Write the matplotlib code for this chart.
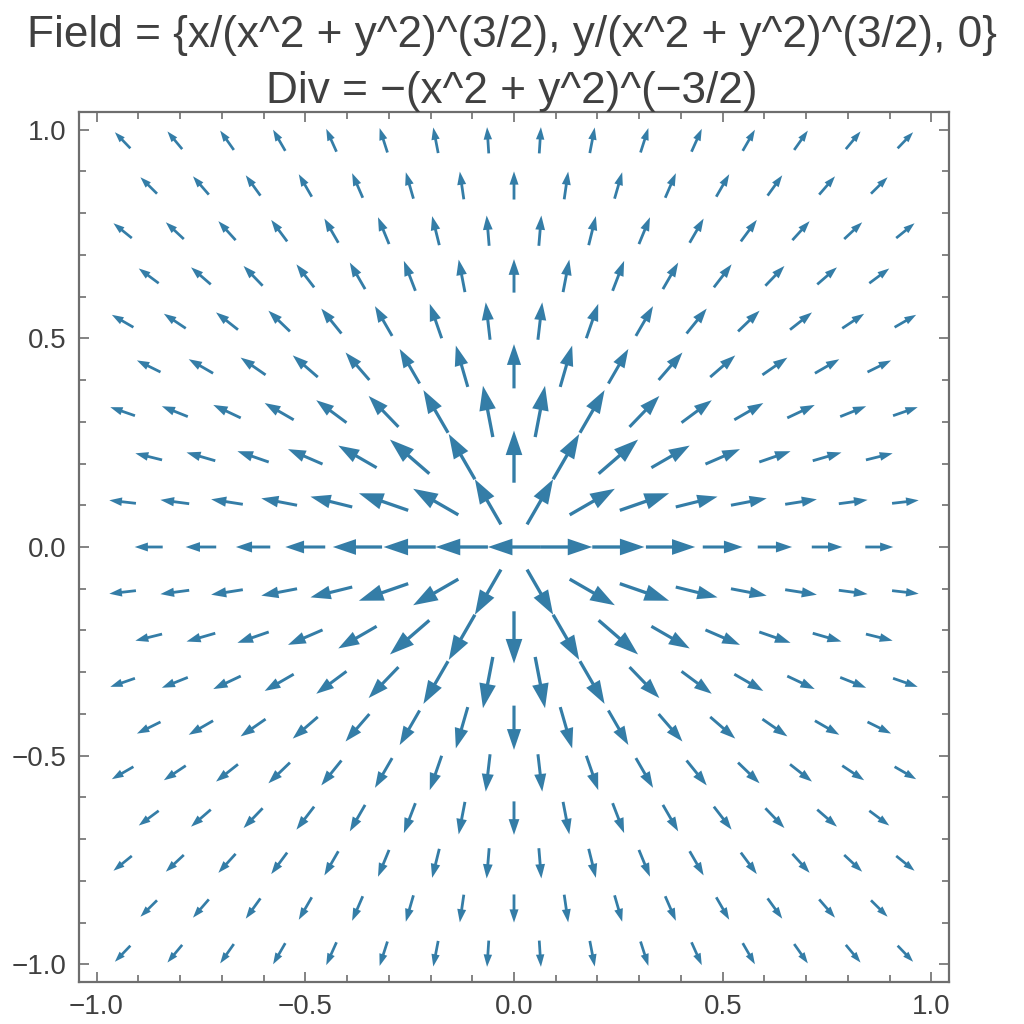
import numpy as np
import matplotlib
matplotlib.use("Agg")
import matplotlib.pyplot as plt
from matplotlib.ticker import MultipleLocator

# grid of sample points (hexagonal layout, rows alternate offset)
spacing = 0.125
row_step = spacing * np.sqrt(3) / 2
row_index = np.arange(-9, 10)
x_full = np.arange(-7, 8) * spacing          # rows with even index
x_half = (np.arange(-8, 8) + 0.5) * spacing  # rows with odd index

title_line1 = "Field = {x/(x^2 + y^2)^(3/2), y/(x^2 + y^2)^(3/2), 0}"
title_line2 = "Div = \u2212(x^2 + y^2)^(\u22123/2)"
ticks_major = [-1.0, -0.5, 0.0, 0.5, 1.0]
tick_labels = ["\u22121.0", "\u22120.5", "0.0", "0.5", "1.0"]

arrow_color = "#347da7"


def field(x, y):
    # the origin sample lands a hair left of zero, so it points left
    if x == 0 and y == 0:
        x = -1e-12
    r3 = (x * x + y * y) ** 1.5
    return x / r3, y / r3


def arrow_length(mag):
    # lengths grow with sqrt of magnitude, capped at the grid spacing
    return min(0.0287 + 0.0335 * np.sqrt(mag), spacing)


fig = plt.figure(figsize=(10.24, 10.24), dpi=100)
ax = fig.add_axes([79 / 1024, 42 / 1024, 870 / 1024, 870 / 1024])

for j in row_index:
    y = j * row_step
    xs = x_half if j % 2 else x_full
    for x in xs:
        u, v = field(x, y)
        mag = np.hypot(u, v)
        L = arrow_length(mag)
        dx, dy = u / mag * L, v / mag * L
        ax.arrow(
            x - dx / 2,
            y - dy / 2,
            dx,
            dy,
            width=0.0052 + 0.022 * L,
            head_width=0.32 * L,
            head_length=0.47 * L,
            length_includes_head=True,
            color=arrow_color,
            linewidth=0,
        )

lim = 1.042
ax.set_xlim(-lim, lim)
ax.set_ylim(-lim, lim)

ax.set_xticks(ticks_major)
ax.set_xticklabels(tick_labels)
ax.set_yticks(ticks_major)
ax.set_yticklabels(tick_labels)
ax.xaxis.set_minor_locator(MultipleLocator(0.1))
ax.yaxis.set_minor_locator(MultipleLocator(0.1))

frame_color = "#6e6e6e"
for s in ax.spines.values():
    s.set_color(frame_color)
    s.set_linewidth(1.6)
ax.tick_params(which="both", direction="in", top=True, right=True,
               color=frame_color, width=1.2)
ax.tick_params(which="major", length=7, labelsize=20, labelcolor="#404040", pad=9)
ax.tick_params(which="minor", length=5)
for lab in ax.get_xticklabels() + ax.get_yticklabels():
    lab.set_family("Liberation Sans")

fig.text(0.5, 1 - 36 / 1024, title_line1, ha="center", va="center",
         fontsize=31.8, family="Liberation Sans", color="#404040")
fig.text(0.5, 1 - 92 / 1024, title_line2, ha="center", va="center",
         fontsize=31.8, family="Liberation Sans", color="#404040")

plt.savefig("out.png", dpi=100)
plt.close()
